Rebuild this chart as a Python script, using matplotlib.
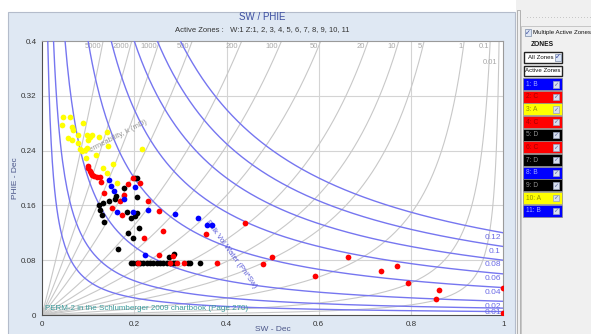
import numpy as np
import matplotlib
matplotlib.use("Agg")
import matplotlib.pyplot as plt
from matplotlib.patches import Rectangle

plt.rcParams['font.family'] = ['Liberation Sans', 'DejaVu Sans']

# ---- data ----
# zone A (yellow)
sw_a = [0.046, 0.061, 0.044, 0.064, 0.068, 0.056, 0.066, 0.079, 0.097, 0.104, 0.100, 0.108,
        0.124, 0.140, 0.079, 0.082, 0.086, 0.093, 0.097, 0.142, 0.117, 0.095, 0.217, 0.153,
        0.132, 0.140, 0.162, 0.088]
phie_a = [0.289, 0.289, 0.277, 0.275, 0.270, 0.258, 0.255, 0.263, 0.263, 0.260, 0.255, 0.263,
          0.260, 0.267, 0.251, 0.243, 0.240, 0.241, 0.244, 0.246, 0.233, 0.229, 0.243, 0.220,
          0.214, 0.207, 0.192, 0.280]

# zone C (red)
sw_c = [0.099, 0.100, 0.103, 0.106, 0.109, 0.113, 0.119, 0.125, 0.127, 0.198, 0.212, 0.186,
        0.135, 0.178, 0.169, 0.230, 0.151, 0.173, 0.254, 0.262, 0.221, 0.356, 0.440, 0.254,
        0.283, 0.498, 0.480, 0.209, 0.277, 0.292, 0.308, 0.380, 0.592, 0.664, 0.734, 0.769,
        0.794, 0.861, 0.854, 1.0, 1.0]
phie_c = [0.218, 0.214, 0.210, 0.207, 0.204, 0.203, 0.202, 0.202, 0.194, 0.200, 0.192, 0.191,
          0.178, 0.175, 0.167, 0.167, 0.156, 0.146, 0.152, 0.123, 0.113, 0.118, 0.135, 0.087,
          0.086, 0.084, 0.075, 0.076, 0.076, 0.076, 0.076, 0.076, 0.057, 0.084, 0.064, 0.072,
          0.047, 0.036, 0.023, 0.039, 0.003]

# zone B (blue)
sw_b = [0.145, 0.150, 0.155, 0.202, 0.178, 0.162, 0.197, 0.230, 0.288, 0.339, 0.357, 0.368, 0.224]
phie_b = [0.197, 0.188, 0.181, 0.187, 0.169, 0.150, 0.150, 0.153, 0.148, 0.142, 0.132, 0.132, 0.088]

# zone D (black)
sw_d = [0.202, 0.207, 0.178, 0.160, 0.158, 0.146, 0.205, 0.133, 0.124, 0.126, 0.129, 0.135,
        0.184, 0.205, 0.202, 0.194, 0.187, 0.198, 0.210, 0.165, 0.276, 0.287,
        0.192, 0.198, 0.205, 0.212, 0.220, 0.227, 0.234, 0.241, 0.249, 0.256, 0.263, 0.270,
        0.277, 0.285, 0.288, 0.317, 0.321, 0.342]
phie_d = [0.200, 0.200, 0.185, 0.174, 0.169, 0.166, 0.172, 0.163, 0.161, 0.153, 0.146, 0.136,
          0.150, 0.149, 0.144, 0.141, 0.119, 0.113, 0.127, 0.097, 0.084, 0.089,
          0.076, 0.076, 0.076, 0.076, 0.076, 0.076, 0.076, 0.076, 0.076, 0.076, 0.076, 0.076,
          0.076, 0.076, 0.076, 0.076, 0.076, 0.076]

# chart overlay constants
bvw_values = [0.005, 0.01, 0.02, 0.04, 0.06, 0.08, 0.1, 0.12]
bvw_labels = ['0.01', '0.02', '0.04', '0.06', '0.08', '0.1', '0.12']
perm_values = [5000, 2000, 1000, 500, 200, 100, 50, 20, 10, 5, 1, 0.1, 0.01]
perm_labels = ['5000', '2000', '1000', '500', '200', '100', '50', '20', '10', '5', '1', '0.1', '0.01']
perm_a = 27.0

x_ticks = [0, 0.2, 0.4, 0.6, 0.8, 1]
x_ticklabels = ['0', '0.2', '0.4', '0.6', '0.8', '1']
y_ticks = [0, 0.08, 0.16, 0.24, 0.32, 0.4]
y_ticklabels = ['0', '0.08', '0.16', '0.24', '0.32', '0.4']

zone_names = ['1: B', '2: C', '3: A', '4: C', '5: D', '6: C', '7: D', '8: B', '9: D', '10: A', '11: B']
zone_colors = ['#0000ff', '#ff0000', '#ffff00', '#ff0000', '#000000', '#ff0000', '#000000',
               '#0000ff', '#000000', '#ffff00', '#0000ff']
zone_textcolors = ['#a0a8ff', '#a00000', '#909000', '#a00000', '#909090', '#a00000', '#909090',
                   '#a0a8ff', '#909090', '#909000', '#a0a8ff']

W, H = 591, 334
fig = plt.figure(figsize=(W / 100, H / 100), dpi=100)
fig.patch.set_facecolor('white')


def px_rect(x0, y0, x1, y1, z=1, **kw):
    fig.patches.append(Rectangle((x0 / W, 1 - y1 / H), (x1 - x0) / W, (y1 - y0) / H,
                                 transform=fig.transFigure, zorder=z, **kw))


def px_text(x, y, s, **kw):
    fig.text(x / W, 1 - y / H, s, **kw)


# chart panel background
px_rect(8, 12, 515, 336, z=-10, facecolor='#dfe8f3', edgecolor='#b4bccb', lw=0.8)
# right side panel
px_rect(516, 0, 592, 336, z=-10, facecolor='#f0f0f0', edgecolor='none')
px_rect(517, 10, 520, 336, z=-9, facecolor='#f0f0f0', edgecolor='#a8a8a8', lw=0.6)
px_rect(521, 26, 592, 336, z=-9, facecolor='#f0f0f0', edgecolor='#c0c0c0', lw=0.6)
for gx in range(527, 591, 3):
    px_rect(gx, 17, gx + 1, 18, z=-8, facecolor='#c8c8c8', edgecolor='none')

ax = fig.add_axes([42 / W, 1 - 315 / H, (503.3 - 42) / W, (315 - 41) / H])
ax.set_facecolor('white')
ax.set_xlim(0, 1)
ax.set_ylim(0, 0.4)

# grid
for gx in x_ticks[1:-1]:
    ax.axvline(gx, color='#d4d4d4', lw=0.8, zorder=1)
for gy in y_ticks[1:-1]:
    ax.axhline(gy, color='#d4d4d4', lw=0.8, zorder=1)

# permeability lines
phi = np.linspace(0, 0.4, 400)
for k, lab in zip(perm_values, perm_labels):
    r = perm_a * phi / np.sqrt(k)
    ax.plot(r / (1 + r), phi, color='#c8c8c8', lw=0.8, zorder=2)
    py = 0.369 if lab == '0.01' else 0.392
    rr = perm_a * py / np.sqrt(k)
    ax.text(rr / (1 + rr) - 0.002, py, lab, ha='right', va='center', fontsize=5.5,
            color='#a8a8a8', zorder=3)

# bulk volume water lines
for c in bvw_values:
    sw = np.linspace(c / 0.4, 1, 400)
    ax.plot(sw, c / sw, color='#7676f0', lw=1.0, zorder=3)
for c, lab in zip(bvw_values[1:], bvw_labels):
    ax.text(0.995, c - 0.007, lab, ha='right', va='center', fontsize=6, color='#6a6ae6',
            zorder=4, clip_on=True)

ax.text(0.160, 0.259, 'Permeability, k (mD)', rotation=27, rotation_mode='anchor',
        ha='center', va='center', fontsize=5.5, color='#959595', zorder=4)
ax.text(0.410, 0.089, 'Bulk Vol Water (Phi*Sw)', rotation=-54, rotation_mode='anchor',
        ha='center', va='center', fontsize=5.5, color='#5a5ad8', zorder=4)
ax.text(0.006, 0.009, 'PERM-2 in the Schlumberger 2009 chartbook (Page 270)', ha='left',
        va='center', fontsize=5.8, color='#3a9a9a', zorder=4)

# points
ms = 17
ax.scatter(sw_d, phie_d, s=ms, color='black', lw=0, zorder=5)
ax.scatter(sw_c, phie_c, s=ms, color='red', lw=0, zorder=6)
ax.scatter(sw_b, phie_b, s=ms, color='blue', lw=0, zorder=6)
ax.scatter(sw_a, phie_a, s=ms, color='yellow', lw=0, zorder=6)

ax.set_xticks(x_ticks)
ax.set_xticklabels(x_ticklabels)
ax.set_yticks(y_ticks)
ax.set_yticklabels(y_ticklabels)
ax.tick_params(length=0, labelsize=5.8, colors='#333333', pad=4)
for s in ['top', 'right']:
    ax.spines[s].set_color('#9a9a9a')
for s in ['left', 'bottom']:
    ax.spines[s].set_color('#505050')
for s in ax.spines.values():
    s.set_linewidth(0.8)

ax.set_xlabel('SW - Dec', fontsize=6, color='#4a5588', va='center')
ax.xaxis.set_label_coords(0.5, -0.052)
ax.set_ylabel('PHIE - Dec', fontsize=6, color='#4a5588', va='center')
ax.yaxis.set_label_coords(-0.058, 0.5)

px_text(262, 17, 'SW / PHIE', ha='center', va='center', fontsize=7, color='#3c4ea0')
px_text(262, 30, 'Active Zones :   W:1 Z:1, 2, 3, 4, 5, 6, 7, 8, 9, 10, 11', ha='center',
        va='center', fontsize=5.5, color='#333333')

# zones panel
px_rect(525, 29, 531, 36, facecolor='#dde6f5', edgecolor='#7a8aa8', lw=0.5)
px_text(528, 32.5, '✓', ha='center', va='center', fontsize=5, color='#3a4a9a',
        family='DejaVu Sans')
px_text(533, 32.5, 'Multiple Active Zones', ha='left', va='center', fontsize=4.4, color='#111111')
px_text(531, 45, 'ZONES', ha='left', va='center', fontsize=4.8, color='#111111', weight='bold')
px_rect(524, 52, 562, 63, facecolor='white', edgecolor='#222222', lw=1.0)
px_text(528, 57.5, 'All Zones', ha='left', va='center', fontsize=4.4, color='#111111')
px_rect(555, 54, 561, 61, facecolor='#dde6f5', edgecolor='#7a8aa8', lw=0.5)
px_text(558, 57.5, '✓', ha='center', va='center', fontsize=5, color='#2a3a9a',
        family='DejaVu Sans')
px_rect(524, 66, 562, 76, facecolor='white', edgecolor='#222222', lw=1.0)
px_text(543, 71, 'Active Zones', ha='center', va='center', fontsize=4.4, color='#111111')

row_top = 78
row_h = 12.65
for i, (name, col, tcol) in enumerate(zip(zone_names, zone_colors, zone_textcolors)):
    y0 = row_top + i * row_h
    px_rect(523, y0, 562, y0 + row_h - 0.6, facecolor=col, edgecolor='#8a8a8a', lw=0.5)
    px_text(526, y0 + row_h / 2, name, ha='left', va='center', fontsize=4.8, color=tcol)
    px_rect(553, y0 + 3, 559, y0 + 9.5, facecolor='#d8dff0', edgecolor='#9aa4bc', lw=0.5)
    px_text(556, y0 + 6.2, '✓', ha='center', va='center', fontsize=4.5, color='#5a6aa0',
            family='DejaVu Sans')

fig.savefig('out.png', dpi=100)
